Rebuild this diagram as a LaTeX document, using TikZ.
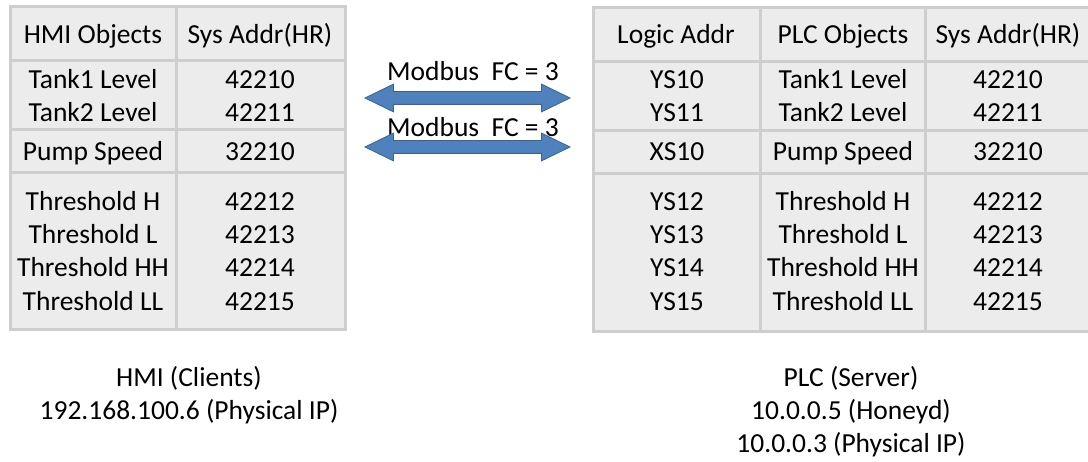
\documentclass[tikz,border=0pt]{standalone}
\usepackage{fontspec}
\setmainfont{Carlito}
\usetikzlibrary{shapes.arrows}

\definecolor{cellgray}{RGB}{236,236,236}
\definecolor{rulegray}{RGB}{206,206,206}
\definecolor{linkblue}{RGB}{79,129,189}
\definecolor{linkedge}{RGB}{58,98,146}

\tikzset{
  cell/.style={draw=rulegray,fill=cellgray,line width=3pt},
  txt/.style={font=\fontsize{27.5}{33}\selectfont,inner sep=0pt,text height=17.8pt,text depth=0pt},
  link/.style={double arrow,draw=linkedge,fill=linkblue,line width=0.8pt,
    inner sep=6pt,minimum height=205pt,double arrow head extend=7.5pt,
    double arrow tip angle=52}
}

\begin{document}
\begin{tikzpicture}[x=1pt,y=-1pt]
    \useasboundingbox (0,0) rectangle (1088,462);

    % HMI table cells
    \foreach \xa/\xb in {10/176,176/345}
        \foreach \ya/\yb in {7/61,61/130,130/173,173/330}
            \draw[cell] (\xa,\ya) rectangle (\xb,\yb);

    % PLC table cells
    \foreach \xa/\xb in {593/760,760/925,925/1090}
        \foreach \ya/\yb in {8/62,62/131,131/174,174/332}
            \draw[cell] (\xa,\ya) rectangle (\xb,\yb);

    % HMI table text
    \node[txt] (hmihead1) at (93,35) {HMI Objects};
    \node[txt] (hmihead2) at (260,35) {Sys Addr(HR)};
    \foreach \y/\obj/\addr [count=\i] in {80/Tank1 Level/42210,113/Tank2 Level/42211,
        152/Pump Speed/32210,202/Threshold H/42212,235/Threshold L/42213,
        268/Threshold HH/42214,302/Threshold LL/42215} {
        \node[txt] (hmiobj\i) at (93,\y) {\obj};
        \node[txt] (hmiaddr\i) at (260,\y) {\addr};
    }

    % PLC table text
    \node[txt] (plchead1) at (676,35) {Logic Addr};
    \node[txt] (plchead2) at (843,35) {PLC Objects};
    \node[txt] (plchead3) at (1008,35) {Sys Addr(HR)};
    \foreach \y/\tag/\obj/\addr [count=\i] in {80/YS10/Tank1 Level/42210,113/YS11/Tank2 Level/42211,
        152/XS10/Pump Speed/32210,202/YS12/Threshold H/42212,235/YS13/Threshold L/42213,
        268/YS14/Threshold HH/42214,302/YS15/Threshold LL/42215} {
        \node[txt] (plctag\i) at (677,\y) {\tag};
        \node[txt] (plcobj\i) at (843,\y) {\obj};
        \node[txt] (plcaddr\i) at (1008,\y) {\addr};
    }

    % Modbus links
    \node[txt] (fc1) at (473,72) {Modbus~ FC = 3};
    \node[link] (link1) at (467.5,98) {};
    \node[txt] (fc2) at (473,128) {Modbus~ FC = 3};
    \node[link] (link2) at (467.5,147) {};

    % Host captions
    \node[txt] (hmicap1) at (189,378) {HMI (Clients)};
    \node[txt] (hmicap2) at (189,411) {192.168.100.6 (Physical IP)};
    \node[txt] (plccap1) at (851,378) {PLC (Server)};
    \node[txt] (plccap2) at (851,411) {10.0.0.5 (Honeyd)};
    \node[txt] (plccap3) at (851,444) {10.0.0.3 (Physical IP)};
\end{tikzpicture}
\end{document}
